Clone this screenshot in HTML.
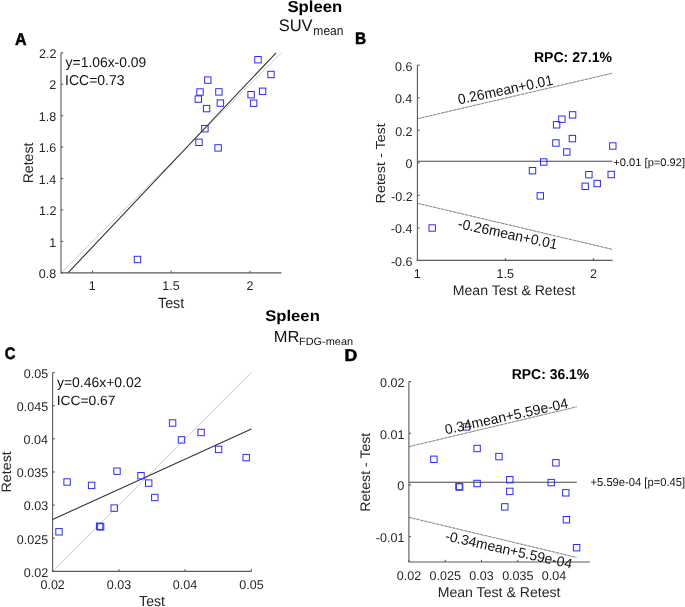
<!DOCTYPE html>
<html><head><meta charset="utf-8"><style>
html,body{margin:0;padding:0;background:#fff;overflow:hidden;}
svg{display:block;will-change:transform;}
text{font-family:"Liberation Sans", sans-serif;text-rendering:geometricPrecision;}
</style></head><body>
<svg width="685" height="607" viewBox="0 0 685 607">
<rect width="685" height="607" fill="#fff"/>
<line x1="61.00" y1="272.90" x2="281.40" y2="52.80" stroke="#c8c8c8" stroke-width="0.9" />
<line x1="68.00" y1="272.90" x2="276.10" y2="52.80" stroke="#333" stroke-width="1.1" />
<path d="M61.00,52.80 L61.00,272.90 L281.40,272.90" fill="none" stroke="#5a5a5a" stroke-width="1.1"/>
<line x1="92.49" y1="272.90" x2="92.49" y2="270.70" stroke="#5a5a5a" stroke-width="1.1" />
<line x1="171.20" y1="272.90" x2="171.20" y2="270.70" stroke="#5a5a5a" stroke-width="1.1" />
<line x1="249.91" y1="272.90" x2="249.91" y2="270.70" stroke="#5a5a5a" stroke-width="1.1" />
<line x1="61.00" y1="272.90" x2="63.20" y2="272.90" stroke="#5a5a5a" stroke-width="1.1" />
<line x1="61.00" y1="241.46" x2="63.20" y2="241.46" stroke="#5a5a5a" stroke-width="1.1" />
<line x1="61.00" y1="210.01" x2="63.20" y2="210.01" stroke="#5a5a5a" stroke-width="1.1" />
<line x1="61.00" y1="178.57" x2="63.20" y2="178.57" stroke="#5a5a5a" stroke-width="1.1" />
<line x1="61.00" y1="147.13" x2="63.20" y2="147.13" stroke="#5a5a5a" stroke-width="1.1" />
<line x1="61.00" y1="115.69" x2="63.20" y2="115.69" stroke="#5a5a5a" stroke-width="1.1" />
<line x1="61.00" y1="84.24" x2="63.20" y2="84.24" stroke="#5a5a5a" stroke-width="1.1" />
<line x1="61.00" y1="52.80" x2="63.20" y2="52.80" stroke="#5a5a5a" stroke-width="1.1" />
<rect x="254.80" y="56.50" width="6.4" height="6.4" fill="none" stroke="#2a2aff" stroke-width="1.0"/>
<rect x="267.80" y="71.30" width="6.4" height="6.4" fill="none" stroke="#2a2aff" stroke-width="1.0"/>
<rect x="204.60" y="76.90" width="6.4" height="6.4" fill="none" stroke="#2a2aff" stroke-width="1.0"/>
<rect x="196.80" y="88.80" width="6.4" height="6.4" fill="none" stroke="#2a2aff" stroke-width="1.0"/>
<rect x="215.70" y="88.70" width="6.4" height="6.4" fill="none" stroke="#2a2aff" stroke-width="1.0"/>
<rect x="259.40" y="88.10" width="6.4" height="6.4" fill="none" stroke="#2a2aff" stroke-width="1.0"/>
<rect x="247.90" y="91.50" width="6.4" height="6.4" fill="none" stroke="#2a2aff" stroke-width="1.0"/>
<rect x="195.10" y="95.90" width="6.4" height="6.4" fill="none" stroke="#2a2aff" stroke-width="1.0"/>
<rect x="217.20" y="99.90" width="6.4" height="6.4" fill="none" stroke="#2a2aff" stroke-width="1.0"/>
<rect x="250.40" y="100.00" width="6.4" height="6.4" fill="none" stroke="#2a2aff" stroke-width="1.0"/>
<rect x="203.40" y="105.40" width="6.4" height="6.4" fill="none" stroke="#2a2aff" stroke-width="1.0"/>
<rect x="201.70" y="125.50" width="6.4" height="6.4" fill="none" stroke="#2a2aff" stroke-width="1.0"/>
<rect x="195.80" y="139.10" width="6.4" height="6.4" fill="none" stroke="#2a2aff" stroke-width="1.0"/>
<rect x="214.90" y="144.70" width="6.4" height="6.4" fill="none" stroke="#2a2aff" stroke-width="1.0"/>
<rect x="134.30" y="256.30" width="6.4" height="6.4" fill="none" stroke="#2a2aff" stroke-width="1.0"/>
<line x1="417.50" y1="118.70" x2="612.50" y2="73.20" stroke="#a4a4a4" stroke-width="0.8" />
<line x1="417.50" y1="118.70" x2="612.50" y2="73.20" stroke="#7a7a7a" stroke-width="0.8" stroke-dasharray="2.3 1.8"/>
<line x1="417.50" y1="203.30" x2="612.50" y2="249.40" stroke="#a4a4a4" stroke-width="0.8" />
<line x1="417.50" y1="203.30" x2="612.50" y2="249.40" stroke="#7a7a7a" stroke-width="0.8" stroke-dasharray="2.3 1.8"/>
<line x1="417.40" y1="161.20" x2="612.40" y2="161.20" stroke="#444" stroke-width="1.1" />
<path d="M417.40,65.20 L417.40,260.40 L612.50,260.40" fill="none" stroke="#5a5a5a" stroke-width="1.1"/>
<line x1="417.40" y1="260.40" x2="417.40" y2="258.20" stroke="#5a5a5a" stroke-width="1.1" />
<line x1="505.40" y1="260.40" x2="505.40" y2="258.20" stroke="#5a5a5a" stroke-width="1.1" />
<line x1="593.40" y1="260.40" x2="593.40" y2="258.20" stroke="#5a5a5a" stroke-width="1.1" />
<line x1="417.40" y1="260.40" x2="419.60" y2="260.40" stroke="#5a5a5a" stroke-width="1.1" />
<line x1="417.40" y1="227.87" x2="419.60" y2="227.87" stroke="#5a5a5a" stroke-width="1.1" />
<line x1="417.40" y1="195.33" x2="419.60" y2="195.33" stroke="#5a5a5a" stroke-width="1.1" />
<line x1="417.40" y1="162.80" x2="419.60" y2="162.80" stroke="#5a5a5a" stroke-width="1.1" />
<line x1="417.40" y1="130.27" x2="419.60" y2="130.27" stroke="#5a5a5a" stroke-width="1.1" />
<line x1="417.40" y1="97.73" x2="419.60" y2="97.73" stroke="#5a5a5a" stroke-width="1.1" />
<line x1="417.40" y1="65.20" x2="419.60" y2="65.20" stroke="#5a5a5a" stroke-width="1.1" />
<rect x="569.40" y="111.70" width="6.4" height="6.4" fill="none" stroke="#2a2aff" stroke-width="1.0"/>
<rect x="558.70" y="116.00" width="6.4" height="6.4" fill="none" stroke="#2a2aff" stroke-width="1.0"/>
<rect x="553.40" y="121.60" width="6.4" height="6.4" fill="none" stroke="#2a2aff" stroke-width="1.0"/>
<rect x="569.20" y="135.40" width="6.4" height="6.4" fill="none" stroke="#2a2aff" stroke-width="1.0"/>
<rect x="552.70" y="139.80" width="6.4" height="6.4" fill="none" stroke="#2a2aff" stroke-width="1.0"/>
<rect x="563.60" y="148.80" width="6.4" height="6.4" fill="none" stroke="#2a2aff" stroke-width="1.0"/>
<rect x="609.60" y="142.80" width="6.4" height="6.4" fill="none" stroke="#2a2aff" stroke-width="1.0"/>
<rect x="540.50" y="158.80" width="6.4" height="6.4" fill="none" stroke="#2a2aff" stroke-width="1.0"/>
<rect x="529.30" y="167.50" width="6.4" height="6.4" fill="none" stroke="#2a2aff" stroke-width="1.0"/>
<rect x="585.70" y="171.50" width="6.4" height="6.4" fill="none" stroke="#2a2aff" stroke-width="1.0"/>
<rect x="608.00" y="171.30" width="6.4" height="6.4" fill="none" stroke="#2a2aff" stroke-width="1.0"/>
<rect x="594.00" y="180.30" width="6.4" height="6.4" fill="none" stroke="#2a2aff" stroke-width="1.0"/>
<rect x="582.00" y="183.10" width="6.4" height="6.4" fill="none" stroke="#2a2aff" stroke-width="1.0"/>
<rect x="537.10" y="192.70" width="6.4" height="6.4" fill="none" stroke="#2a2aff" stroke-width="1.0"/>
<rect x="429.00" y="224.80" width="6.4" height="6.4" fill="none" stroke="#2a2aff" stroke-width="1.0"/>
<line x1="52.60" y1="571.40" x2="251.40" y2="372.50" stroke="#c8c8c8" stroke-width="0.9" />
<line x1="52.60" y1="519.50" x2="251.40" y2="429.00" stroke="#333" stroke-width="1.1" />
<path d="M52.60,372.50 L52.60,571.40 L251.40,571.40" fill="none" stroke="#5a5a5a" stroke-width="1.1"/>
<line x1="52.60" y1="571.40" x2="52.60" y2="569.20" stroke="#5a5a5a" stroke-width="1.1" />
<line x1="118.87" y1="571.40" x2="118.87" y2="569.20" stroke="#5a5a5a" stroke-width="1.1" />
<line x1="185.13" y1="571.40" x2="185.13" y2="569.20" stroke="#5a5a5a" stroke-width="1.1" />
<line x1="251.40" y1="571.40" x2="251.40" y2="569.20" stroke="#5a5a5a" stroke-width="1.1" />
<line x1="52.60" y1="571.40" x2="54.80" y2="571.40" stroke="#5a5a5a" stroke-width="1.1" />
<line x1="52.60" y1="538.25" x2="54.80" y2="538.25" stroke="#5a5a5a" stroke-width="1.1" />
<line x1="52.60" y1="505.10" x2="54.80" y2="505.10" stroke="#5a5a5a" stroke-width="1.1" />
<line x1="52.60" y1="471.95" x2="54.80" y2="471.95" stroke="#5a5a5a" stroke-width="1.1" />
<line x1="52.60" y1="438.80" x2="54.80" y2="438.80" stroke="#5a5a5a" stroke-width="1.1" />
<line x1="52.60" y1="405.65" x2="54.80" y2="405.65" stroke="#5a5a5a" stroke-width="1.1" />
<line x1="52.60" y1="372.50" x2="54.80" y2="372.50" stroke="#5a5a5a" stroke-width="1.1" />
<rect x="169.40" y="419.80" width="6.4" height="6.4" fill="none" stroke="#2a2aff" stroke-width="1.0"/>
<rect x="197.90" y="429.30" width="6.4" height="6.4" fill="none" stroke="#2a2aff" stroke-width="1.0"/>
<rect x="178.30" y="436.70" width="6.4" height="6.4" fill="none" stroke="#2a2aff" stroke-width="1.0"/>
<rect x="215.40" y="446.20" width="6.4" height="6.4" fill="none" stroke="#2a2aff" stroke-width="1.0"/>
<rect x="243.00" y="454.40" width="6.4" height="6.4" fill="none" stroke="#2a2aff" stroke-width="1.0"/>
<rect x="113.80" y="468.00" width="6.4" height="6.4" fill="none" stroke="#2a2aff" stroke-width="1.0"/>
<rect x="137.80" y="472.50" width="6.4" height="6.4" fill="none" stroke="#2a2aff" stroke-width="1.0"/>
<rect x="63.90" y="478.80" width="6.4" height="6.4" fill="none" stroke="#2a2aff" stroke-width="1.0"/>
<rect x="88.40" y="482.20" width="6.4" height="6.4" fill="none" stroke="#2a2aff" stroke-width="1.0"/>
<rect x="145.50" y="479.90" width="6.4" height="6.4" fill="none" stroke="#2a2aff" stroke-width="1.0"/>
<rect x="151.60" y="494.30" width="6.4" height="6.4" fill="none" stroke="#2a2aff" stroke-width="1.0"/>
<rect x="111.00" y="504.90" width="6.4" height="6.4" fill="none" stroke="#2a2aff" stroke-width="1.0"/>
<rect x="96.40" y="523.00" width="6.4" height="6.4" fill="none" stroke="#2a2aff" stroke-width="1.0"/>
<rect x="97.40" y="523.70" width="6.4" height="6.4" fill="none" stroke="#2a2aff" stroke-width="1.0"/>
<rect x="55.80" y="528.60" width="6.4" height="6.4" fill="none" stroke="#2a2aff" stroke-width="1.0"/>
<line x1="408.80" y1="446.70" x2="576.80" y2="406.80" stroke="#a4a4a4" stroke-width="0.8" />
<line x1="408.80" y1="446.70" x2="576.80" y2="406.80" stroke="#7a7a7a" stroke-width="0.8" stroke-dasharray="2.3 1.8"/>
<line x1="408.80" y1="517.30" x2="576.60" y2="557.40" stroke="#a4a4a4" stroke-width="0.8" />
<line x1="408.80" y1="517.30" x2="576.60" y2="557.40" stroke="#7a7a7a" stroke-width="0.8" stroke-dasharray="2.3 1.8"/>
<line x1="408.90" y1="482.20" x2="576.80" y2="482.20" stroke="#444" stroke-width="1.1" />
<path d="M408.90,381.50 L408.90,562.00 L589.90,562.00" fill="none" stroke="#5a5a5a" stroke-width="1.1"/>
<line x1="408.90" y1="562.00" x2="408.90" y2="559.80" stroke="#5a5a5a" stroke-width="1.1" />
<line x1="445.20" y1="562.00" x2="445.20" y2="559.80" stroke="#5a5a5a" stroke-width="1.1" />
<line x1="481.50" y1="562.00" x2="481.50" y2="559.80" stroke="#5a5a5a" stroke-width="1.1" />
<line x1="517.80" y1="562.00" x2="517.80" y2="559.80" stroke="#5a5a5a" stroke-width="1.1" />
<line x1="554.10" y1="562.00" x2="554.10" y2="559.80" stroke="#5a5a5a" stroke-width="1.1" />
<line x1="408.90" y1="536.70" x2="411.10" y2="536.70" stroke="#5a5a5a" stroke-width="1.1" />
<line x1="408.90" y1="485.00" x2="411.10" y2="485.00" stroke="#5a5a5a" stroke-width="1.1" />
<line x1="408.90" y1="433.30" x2="411.10" y2="433.30" stroke="#5a5a5a" stroke-width="1.1" />
<line x1="408.90" y1="381.60" x2="411.10" y2="381.60" stroke="#5a5a5a" stroke-width="1.1" />
<rect x="463.40" y="423.70" width="6.4" height="6.4" fill="none" stroke="#2a2aff" stroke-width="1.0"/>
<rect x="430.70" y="456.10" width="6.4" height="6.4" fill="none" stroke="#2a2aff" stroke-width="1.0"/>
<rect x="473.90" y="445.30" width="6.4" height="6.4" fill="none" stroke="#2a2aff" stroke-width="1.0"/>
<rect x="495.80" y="453.40" width="6.4" height="6.4" fill="none" stroke="#2a2aff" stroke-width="1.0"/>
<rect x="552.70" y="459.60" width="6.4" height="6.4" fill="none" stroke="#2a2aff" stroke-width="1.0"/>
<rect x="455.80" y="483.30" width="6.4" height="6.4" fill="none" stroke="#2a2aff" stroke-width="1.0"/>
<rect x="456.40" y="483.80" width="6.4" height="6.4" fill="none" stroke="#2a2aff" stroke-width="1.0"/>
<rect x="473.90" y="480.30" width="6.4" height="6.4" fill="none" stroke="#2a2aff" stroke-width="1.0"/>
<rect x="506.60" y="476.50" width="6.4" height="6.4" fill="none" stroke="#2a2aff" stroke-width="1.0"/>
<rect x="548.00" y="479.40" width="6.4" height="6.4" fill="none" stroke="#2a2aff" stroke-width="1.0"/>
<rect x="506.60" y="488.20" width="6.4" height="6.4" fill="none" stroke="#2a2aff" stroke-width="1.0"/>
<rect x="562.60" y="489.60" width="6.4" height="6.4" fill="none" stroke="#2a2aff" stroke-width="1.0"/>
<rect x="501.60" y="503.70" width="6.4" height="6.4" fill="none" stroke="#2a2aff" stroke-width="1.0"/>
<rect x="563.20" y="516.50" width="6.4" height="6.4" fill="none" stroke="#2a2aff" stroke-width="1.0"/>
<rect x="573.40" y="544.50" width="6.4" height="6.4" fill="none" stroke="#2a2aff" stroke-width="1.0"/>
<text font-size="12.6" fill="#262626" transform="translate(88.79,290.15) scale(0.995,1)">1</text>
<text font-size="12.6" fill="#262626" transform="translate(162.24,290.08) scale(0.995,1)">1.5</text>
<text font-size="12.6" fill="#262626" transform="translate(246.40,290.21) scale(0.995,1)">2</text>
<text font-size="12.6" fill="#262626" transform="translate(38.83,278.00) scale(0.995,1)">0.8</text>
<text font-size="12.6" fill="#262626" transform="translate(49.36,246.55) scale(0.995,1)">1</text>
<text font-size="12.6" fill="#262626" transform="translate(38.95,215.17) scale(0.995,1)">1.2</text>
<text font-size="12.6" fill="#262626" transform="translate(38.70,183.67) scale(0.995,1)">1.4</text>
<text font-size="12.6" fill="#262626" transform="translate(38.83,152.23) scale(0.995,1)">1.6</text>
<text font-size="12.6" fill="#262626" transform="translate(38.83,120.78) scale(0.995,1)">1.8</text>
<text font-size="12.6" fill="#262626" transform="translate(49.36,89.40) scale(0.995,1)">2</text>
<text font-size="12.6" fill="#262626" transform="translate(38.95,57.96) scale(0.995,1)">2.2</text>
<text font-size="14.857" font-weight="normal" fill="#262626" transform="translate(158.01,307.85) scale(0.9631,1)">Test</text>
<text font-size="14.000" font-weight="normal" fill="#262626" transform="translate(32.76,183.33) rotate(-90) scale(1.0051,1)">Retest</text>
<text font-size="17.206" font-weight="bold" fill="#000" stroke="#000" stroke-width="0.5" stroke-linejoin="round" transform="translate(14.97,44.72) scale(0.9334,1)">A</text>
<text font-size="14.066" font-weight="normal" fill="#111" transform="translate(65.60,66.75) scale(0.9886,1)">y=1.06x-0.09</text>
<text font-size="14.225" font-weight="normal" fill="#111" transform="translate(65.04,84.86) scale(0.9845,1)">ICC=0.73</text>
<text font-size="15.957" font-weight="bold" fill="#000" transform="translate(287.40,12.05) scale(1.0490,1)">Spleen</text>
<text font-size="16.761" font-weight="normal" fill="#111" transform="translate(278.68,31.13) scale(0.9845,1)">SUV</text>
<text font-size="12.909" font-weight="normal" fill="#111" transform="translate(313.36,34.77) scale(0.9348,1)">mean</text>
<text font-size="15.426" font-weight="bold" fill="#000" transform="translate(265.20,321.36) scale(1.0811,1)">Spleen</text>
<text font-size="15.942" font-weight="normal" fill="#111" transform="translate(273.68,342.10) scale(1.0337,1)">MR</text>
<text font-size="10.704" font-weight="normal" fill="#111" transform="translate(299.03,344.69) scale(1.0218,1)">FDG-mean</text>
<text font-size="12.6" fill="#262626" transform="translate(413.70,277.70) scale(0.995,1)">1</text>
<text font-size="12.6" fill="#262626" transform="translate(496.44,277.63) scale(0.995,1)">1.5</text>
<text font-size="12.6" fill="#262626" transform="translate(589.89,277.76) scale(0.995,1)">2</text>
<text font-size="12.6" fill="#262626" transform="translate(390.89,265.75) scale(0.995,1)">-0.6</text>
<text font-size="12.6" fill="#262626" transform="translate(390.76,233.21) scale(0.995,1)">-0.4</text>
<text font-size="12.6" fill="#262626" transform="translate(391.01,200.68) scale(0.995,1)">-0.2</text>
<text font-size="12.6" fill="#262626" transform="translate(405.43,168.15) scale(0.995,1)">0</text>
<text font-size="12.6" fill="#262626" transform="translate(395.15,135.61) scale(0.995,1)">0.2</text>
<text font-size="12.6" fill="#262626" transform="translate(394.90,103.08) scale(0.995,1)">0.4</text>
<text font-size="12.6" fill="#262626" transform="translate(395.03,70.55) scale(0.995,1)">0.6</text>
<text font-size="13.857" font-weight="normal" fill="#262626" transform="translate(452.77,295.16) scale(1.0172,1)">Mean Test &amp; Retest</text>
<text font-size="13.143" font-weight="normal" fill="#262626" transform="translate(384.77,203.45) rotate(-90) scale(1.0923,1)">Retest - Test</text>
<text font-size="16.812" font-weight="bold" fill="#000" stroke="#000" stroke-width="0.5" stroke-linejoin="round" transform="translate(355.07,44.45) scale(0.9166,1)">B</text>
<text font-size="14.225" font-weight="bold" fill="#000" transform="translate(533.92,61.86) scale(0.9888,1)">RPC: 27.1%</text>
<text font-size="10.957" font-weight="normal" fill="#111" transform="translate(613.34,165.50) scale(1.0164,1)">+0.01 [p=0.92]</text>
<text font-size="14.0" fill="#111" transform="translate(459.0,104.4) rotate(-11.8) scale(0.99,1.03)">0.26mean+0.01</text>
<text font-size="14.0" fill="#111" transform="translate(457.3,228.0) rotate(12.1) scale(0.99,1.03)">-0.26mean+0.01</text>
<text font-size="12.6" fill="#262626" transform="translate(40.44,588.75) scale(0.995,1)">0.02</text>
<text font-size="12.6" fill="#262626" transform="translate(106.71,588.75) scale(0.995,1)">0.03</text>
<text font-size="12.6" fill="#262626" transform="translate(172.85,588.75) scale(0.995,1)">0.04</text>
<text font-size="12.6" fill="#262626" transform="translate(239.24,588.75) scale(0.995,1)">0.05</text>
<text font-size="12.6" fill="#262626" transform="translate(23.78,576.75) scale(0.995,1)">0.02</text>
<text font-size="12.6" fill="#262626" transform="translate(16.76,543.60) scale(0.995,1)">0.025</text>
<text font-size="12.6" fill="#262626" transform="translate(23.78,510.45) scale(0.995,1)">0.03</text>
<text font-size="12.6" fill="#262626" transform="translate(16.76,477.30) scale(0.995,1)">0.035</text>
<text font-size="12.6" fill="#262626" transform="translate(23.53,444.15) scale(0.995,1)">0.04</text>
<text font-size="12.6" fill="#262626" transform="translate(16.76,411.00) scale(0.995,1)">0.045</text>
<text font-size="12.6" fill="#262626" transform="translate(23.78,377.85) scale(0.995,1)">0.05</text>
<text font-size="14.571" font-weight="normal" fill="#262626" transform="translate(139.12,606.15) scale(0.9706,1)">Test</text>
<text font-size="13.714" font-weight="normal" fill="#262626" transform="translate(11.06,492.55) rotate(-90) scale(1.0443,1)">Retest</text>
<text font-size="16.761" font-weight="bold" fill="#000" stroke="#000" stroke-width="0.5" stroke-linejoin="round" transform="translate(4.85,359.18) scale(0.8904,1)">C</text>
<text font-size="13.956" font-weight="normal" fill="#111" transform="translate(57.00,387.07) scale(1.0003,1)">y=0.46x+0.02</text>
<text font-size="13.380" font-weight="normal" fill="#111" transform="translate(56.66,404.57) scale(1.0329,1)">ICC=0.67</text>
<text font-size="12.6" fill="#262626" transform="translate(396.74,579.85) scale(0.995,1)">0.02</text>
<text font-size="12.6" fill="#262626" transform="translate(429.53,579.85) scale(0.995,1)">0.025</text>
<text font-size="12.6" fill="#262626" transform="translate(469.34,579.85) scale(0.995,1)">0.03</text>
<text font-size="12.6" fill="#262626" transform="translate(502.13,579.85) scale(0.995,1)">0.035</text>
<text font-size="12.6" fill="#262626" transform="translate(541.81,579.85) scale(0.995,1)">0.04</text>
<text font-size="12.6" fill="#262626" transform="translate(375.84,542.05) scale(0.995,1)">-0.01</text>
<text font-size="12.6" fill="#262626" transform="translate(397.28,490.35) scale(0.995,1)">0</text>
<text font-size="12.6" fill="#262626" transform="translate(379.98,438.65) scale(0.995,1)">0.01</text>
<text font-size="12.6" fill="#262626" transform="translate(379.98,386.95) scale(0.995,1)">0.02</text>
<text font-size="14.143" font-weight="normal" fill="#262626" transform="translate(437.67,597.46) scale(0.9983,1)">Mean Test &amp; Retest</text>
<text font-size="13.857" font-weight="normal" fill="#262626" transform="translate(370.16,511.73) rotate(-90) scale(1.0203,1)">Retest - Test</text>
<text font-size="17.246" font-weight="bold" fill="#000" stroke="#000" stroke-width="0.5" stroke-linejoin="round" transform="translate(344.41,361.25) scale(1.0266,1)">D</text>
<text font-size="14.225" font-weight="bold" fill="#000" transform="translate(511.72,378.66) scale(0.9798,1)">RPC: 36.1%</text>
<text font-size="11.596" font-weight="normal" fill="#111" transform="translate(590.54,486.36) scale(0.9659,1)">+5.59e-04 [p=0.45]</text>
<text font-size="14.0" fill="#111" transform="translate(446.0,434.4) rotate(-12.3) scale(1.0,1)">0.34mean+5.59e-04</text>
<text font-size="14.0" fill="#111" transform="translate(444.4,540.2) rotate(12.7) scale(0.995,1)">-0.34mean+5.59e-04</text>
</svg>
</body></html>
